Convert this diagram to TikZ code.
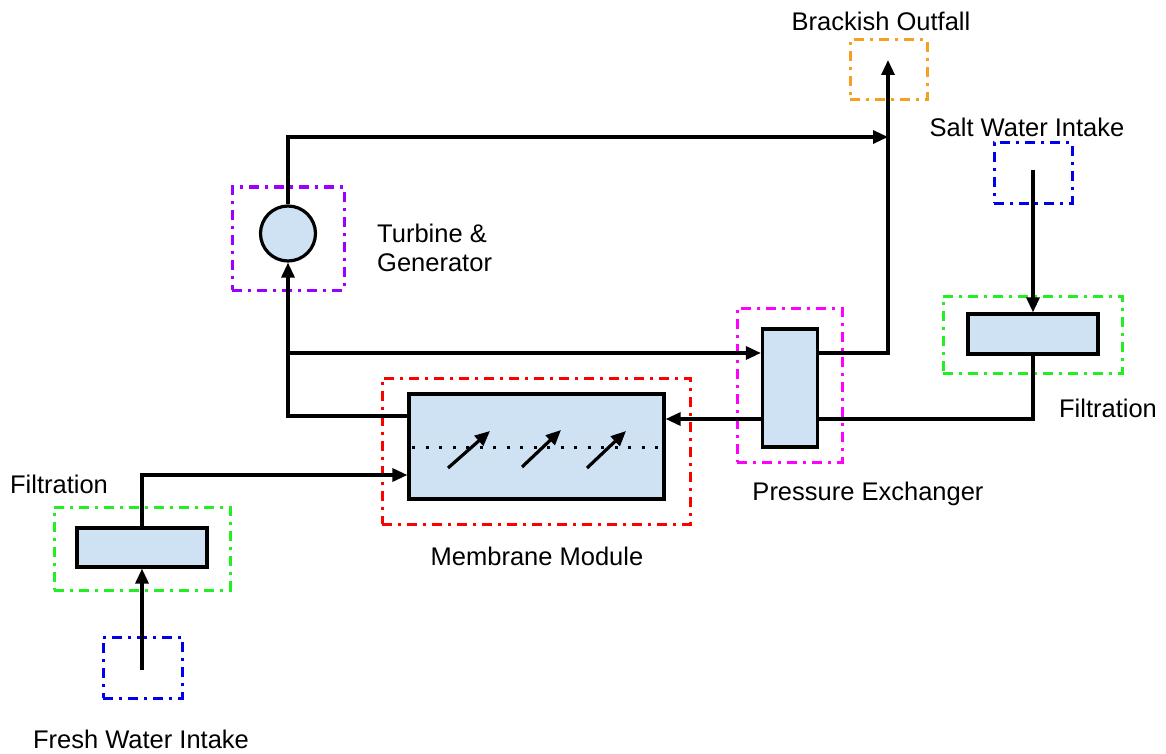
\documentclass[tikz,border=0pt]{standalone}
\usepackage{fontspec}
\setmainfont{Liberation Sans}
\usetikzlibrary{arrows.meta}
\definecolor{unitfill}{HTML}{CFE2F3}
\definecolor{ddred}{HTML}{FF0000}
\definecolor{ddgreen}{HTML}{22EE22}
\definecolor{ddblue}{HTML}{0000EE}
\definecolor{ddmag}{HTML}{FF00FF}
\definecolor{ddpurple}{HTML}{9900FF}
\definecolor{ddorange}{HTML}{F5A020}
\tikzset{
  unit/.style={draw=black, fill=unitfill, line width=3.2pt, inner sep=0pt},
  ddbox/.style={draw=#1, line width=3pt, inner sep=0pt,
    dash pattern=on 10pt off 6pt on 3pt off 6pt},
  flow/.style={line width=3.2pt, -{Triangle[length=15pt,width=13pt]}},
  pipe/.style={line width=3.2pt},
  lbl/.style={font=\fontsize{25.5}{30}\selectfont, inner sep=0pt}
}
\begin{document}
\begin{tikzpicture}[x=1pt,y=-1pt]
\useasboundingbox (0,0) rectangle (1166,754);
% dash-dot boxes
\node[ddbox=ddorange, minimum width=77pt, minimum height=60pt] (outBox) at (888.5,70) {};
\node[ddbox=ddblue, minimum width=78pt, minimum height=60pt] (saltBox) at (1033,173) {};
\node[ddbox=ddgreen, minimum width=179pt, minimum height=77pt] (filtRBox) at (1032.5,334.5) {};
\node[ddbox=ddpurple, minimum width=112pt, minimum height=103pt] (turbBox) at (288,238.5) {};
\node[ddbox=ddmag, minimum width=105pt, minimum height=154pt] (peBox) at (789.5,385) {};
\node[ddbox=ddred, minimum width=308pt, minimum height=146pt] (memBox) at (536,451) {};
\node[ddbox=ddgreen, minimum width=176pt, minimum height=83pt] (filtLBox) at (142,548.5) {};
\node[ddbox=ddblue, minimum width=79pt, minimum height=61pt] (freshBox) at (142.5,667.5) {};
% units
\node[unit, minimum width=130pt, minimum height=40pt] (filtR) at (1033,334) {};
\node[unit, minimum width=55pt, minimum height=118pt] (pe) at (790,388) {};
\node[unit, minimum width=255pt, minimum height=105pt] (mem) at (536.5,446.5) {};
\node[unit, minimum width=130pt, minimum height=39pt] (filtL) at (142,547.5) {};
\node[unit, circle, minimum size=55pt] (turb) at (288,233.5) {};
% free ends
\coordinate (outTip) at (888,60);
\coordinate (saltSrc) at (1033,170);
\coordinate (freshSrc) at (142,670);
% membrane internals
\draw[line width=3pt, dash pattern=on 3pt off 10.5pt] (412,447) -- (660,447);
\draw[flow] (448,468) -- (490,431);
\draw[flow] (522,467) -- (561,430);
\draw[flow] (587,468) -- (626,431);
% connectors
\draw[flow] (freshSrc) -- (filtL.south);
\draw[flow] (filtL.north) |- (mem.west |- 0,475);
\draw[flow] (saltSrc) -- (filtR.north);
\draw[pipe] (filtR.south) |- (pe.east |- 0,419);
\draw[flow] (pe.west |- 0,419) -- (mem.east |- 0,419);
\draw[flow] (mem.west |- 0,416) -| (turb.south);
\draw[flow] (turb.south |- 0,353) -- (pe.west |- 0,353);
\draw[flow] (pe.east |- 0,353) -| (outTip);
\draw[flow] (turb.north) |- (outTip |- 0,137);
% labels
\node[lbl] (lOut) at (881,21) {Brackish Outfall};
\node[lbl] (lSalt) at (1027,127) {Salt Water Intake};
\node[lbl, anchor=west] (lTurb1) at (377,233) {Turbine \&};
\node[lbl, anchor=west] (lTurb2) at (377,263) {Generator};
\node[lbl] (lFiltR) at (1108,408) {Filtration};
\node[lbl] (lPE) at (868,494) {Pressure Exchanger};
\node[lbl] (lMem) at (537,556) {Membrane Module};
\node[lbl] (lFiltL) at (59,484) {Filtration};
\node[lbl] (lFresh) at (141,739) {Fresh Water Intake};
\end{tikzpicture}
\end{document}
